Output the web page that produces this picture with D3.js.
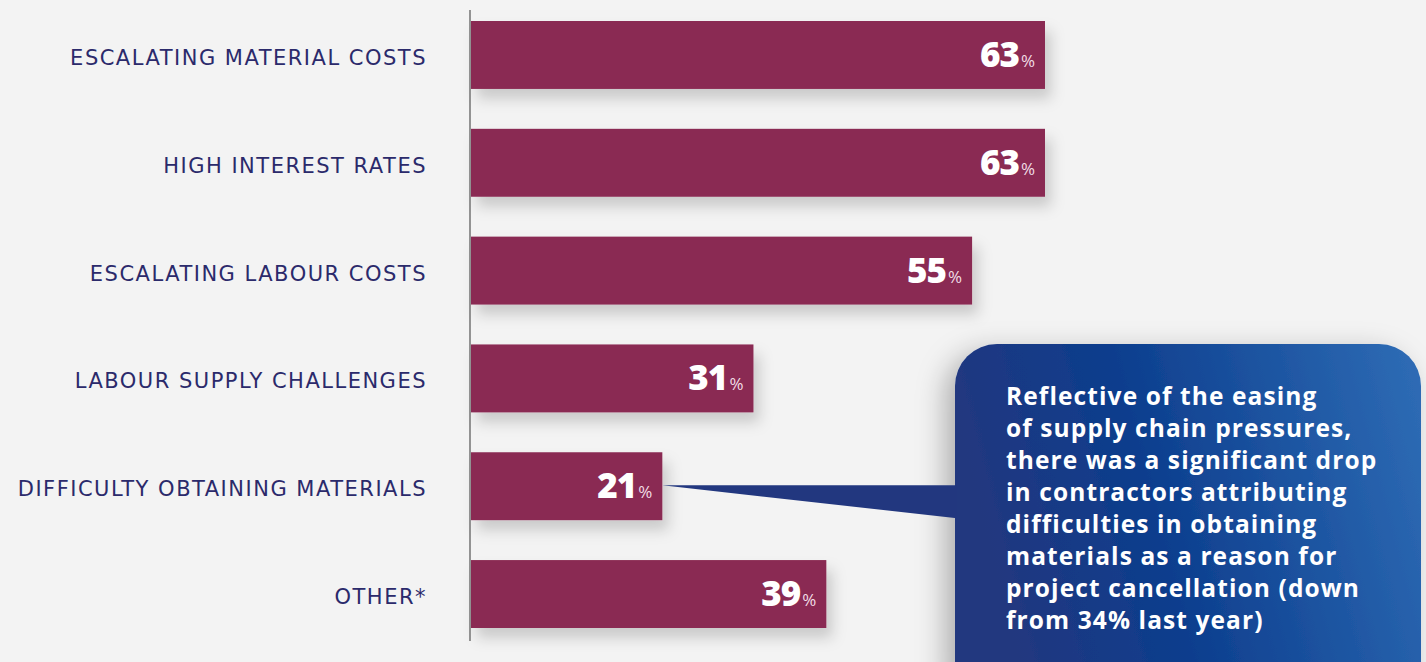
<!DOCTYPE html>
<html>
<head>
<meta charset="utf-8">
<script src="https://cdn.jsdelivr.net/npm/d3@7"></script>
<style>
  html, body { margin: 0; padding: 0; background: #f3f3f3; }
  svg { display: block; }
</style>
</head>
<body>
<svg id="chart" width="1426" height="662"></svg>
<script>
// Reasons for project cancellation (share of contractors, %)
const categories = [
  "ESCALATING MATERIAL COSTS",
  "HIGH INTEREST RATES",
  "ESCALATING LABOUR COSTS",
  "LABOUR SUPPLY CHALLENGES",
  "DIFFICULTY OBTAINING MATERIALS",
  "OTHER*"
];
const values = [63, 63, 55, 31, 21, 39];
const calloutCategory = "DIFFICULTY OBTAINING MATERIALS";
const calloutLines = [
  "Reflective of the easing",
  "of supply chain pressures,",
  "there was a significant drop",
  "in contractors attributing",
  "difficulties in obtaining",
  "materials as a reason for",
  "project cancellation (down",
  "from 34% last year)"
];

const svg = d3.select("#chart");

const x = d3.scaleLinear().domain([0, 63]).range([471, 1045]);
const y = d3.scaleBand().domain(categories).range([21, 628]).paddingInner(0.37).paddingOuter(0);

const defs = svg.append("defs");
const shadow = defs.append("filter").attr("id", "shadow")
  .attr("x", "-10%").attr("y", "-20%").attr("width", "130%").attr("height", "170%");
shadow.append("feDropShadow").attr("dx", 6).attr("dy", 10).attr("stdDeviation", 7)
  .attr("flood-color", "#000").attr("flood-opacity", 0.17);

const boxShadow = defs.append("filter").attr("id", "boxShadow")
  .attr("x", "-25%").attr("y", "-20%").attr("width", "150%").attr("height", "150%");
boxShadow.append("feDropShadow").attr("dx", -10).attr("dy", 8).attr("stdDeviation", 14)
  .attr("flood-color", "#000").attr("flood-opacity", 0.28);

const grad = defs.append("linearGradient").attr("id", "boxGrad")
  .attr("x1", "0%").attr("y1", "20%").attr("x2", "100%").attr("y2", "0%");
grad.append("stop").attr("offset", "0%").attr("stop-color", "#22377f");
grad.append("stop").attr("offset", "35%").attr("stop-color", "#0c3d8d");
grad.append("stop").attr("offset", "100%").attr("stop-color", "#2f6db6");

// Bars
svg.append("g").selectAll("rect")
  .data(categories)
  .join("rect")
  .attr("x", x(0))
  .attr("y", d => y(d))
  .attr("width", (d, i) => x(values[i]) - x(0))
  .attr("height", y.bandwidth())
  .attr("fill", "#8a2952")
  .attr("filter", "url(#shadow)");

// Vertical axis line
svg.append("line")
  .attr("x1", 470).attr("x2", 470)
  .attr("y1", 10).attr("y2", 641)
  .attr("stroke", "#7a7a7a").attr("stroke-width", 1.6);

// Category labels
svg.append("g").selectAll("text")
  .data(categories)
  .join("text")
  .attr("x", 427)
  .attr("y", d => y(d) + y.bandwidth() / 2 + 3)
  .attr("text-anchor", "end")
  .attr("dominant-baseline", "central")
  .attr("font-family", "'DejaVu Sans', sans-serif")
  .attr("font-size", 21)
  .attr("font-weight", 400)
  .attr("letter-spacing", 1.5)
  .attr("fill", "#2b2a6b")
  .text(d => d);

// Value labels: bold number + light percent sign
const vl = svg.append("g").selectAll("text")
  .data(categories)
  .join("text")
  .attr("x", (d, i) => x(values[i]) - 10)
  .attr("y", d => y(d) + y.bandwidth() / 2 + 12)
  .attr("text-anchor", "end")
  .attr("fill", "#fff")
  .attr("font-family", "'Open Sans', sans-serif");
vl.append("tspan")
  .attr("font-size", 35).attr("font-weight", 800).attr("letter-spacing", -1)
  .text((d, i) => values[i]);
vl.append("tspan")
  .attr("font-size", 17).attr("font-weight", 400).attr("dx", 2)
  .attr("fill", "#f1dde5")
  .text("%");

// Callout box with pointer to the highlighted bar
const tipX = x(values[categories.indexOf(calloutCategory)]);
const tipY = y(calloutCategory) + 33;
const boxX = 955, boxY = 344, boxW = 466, boxH = 360, r = 42;

const callout = svg.append("g");
callout.append("rect")
  .attr("x", boxX).attr("y", boxY).attr("width", boxW).attr("height", boxH)
  .attr("rx", r).attr("ry", r)
  .attr("fill", "url(#boxGrad)")
  .attr("filter", "url(#boxShadow)");
callout.append("path")
  .attr("d", `M${tipX},${tipY} L${boxX + 2},${tipY} L${boxX + 2},${tipY + 33} Z`)
  .attr("fill", "#22377f");

// One text element per line of the callout note
callout.append("g").selectAll("text")
  .data(calloutLines)
  .join("text")
  .attr("x", 1006)
  .attr("y", (d, i) => 405 + i * 32)
  .attr("fill", "#fff")
  .attr("font-family", "'Open Sans', sans-serif")
  .attr("font-weight", 700)
  .attr("font-size", 24.5)
  .attr("letter-spacing", 1.1)
  .text(d => d);
</script>
</body>
</html>
